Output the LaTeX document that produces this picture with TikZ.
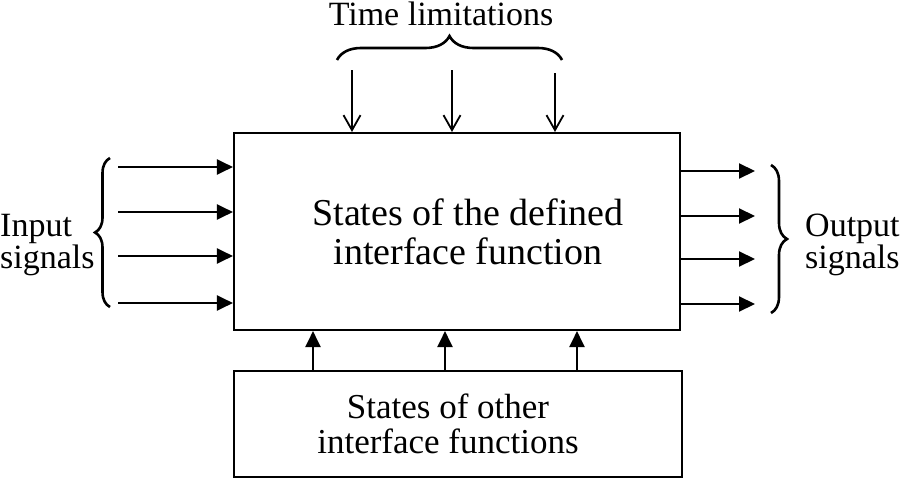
\documentclass[tikz,border=0pt]{standalone}
\usepackage{fontspec}
\setmainfont{Liberation Serif}
\usetikzlibrary{positioning, arrows.meta, decorations.pathreplacing}

\begin{document}
\begin{tikzpicture}[x=1pt, y=-1pt,
  blockbox/.style={draw, line width=2.1pt, inner sep=0pt, align=center},
  sigarrow/.style={line width=2.1pt, -{Triangle[length=16pt,width=15pt]}},
  limarrow/.style={line width=1.8pt, -{Straight Barb[length=15pt,width=17pt]}},
  curly/.style={line width=2.6pt, decorate, decoration={brace, amplitude=#1}},
  lbl/.style={font=\fontsize{34}{28}\selectfont, align=left, inner sep=0pt}]
  \useasboundingbox (0,0) rectangle (900,479);

  % blocks
  \node[blockbox, minimum width=446pt, minimum height=197pt,
        font=\fontsize{38}{39}\selectfont]
    (main) at (457,231.5) {\hspace*{22pt}States of the defined\\\hspace*{22pt}interface function};
  \node[blockbox, minimum width=448pt, minimum height=106pt,
        font=\fontsize{35}{35}\selectfont]
    (other) at (458,424) {States of other\hspace*{20pt}\\interface functions\hspace*{20pt}};

  % input / output signals
  \foreach \y [count=\i] in {167,212,256,303} {
    \coordinate (in\i) at (118,\y);
    \draw[sigarrow] (in\i) -- (in\i -| main.west);
  }
  \foreach \y [count=\i] in {171,216,259,304} {
    \coordinate (out\i) at (755,\y);
    \draw[sigarrow] (out\i -| main.east) -- (out\i);
  }

  % time limitations
  \foreach \x/\y [count=\i] in {352/70,452/70,555/73} {
    \coordinate (lim\i) at (\x,\y);
    \draw[limarrow] (lim\i) -- (lim\i |- main.north);
  }

  % states of other functions
  \foreach \x [count=\i] in {313,445,577} {
    \coordinate (st\i) at (\x,371);
    \draw[sigarrow] (st\i) -- (st\i |- main.south);
  }

  % braces
  \draw[curly=15pt] (110,307) -- (110,158);
  \draw[curly=16pt] (771,165) -- (771,313);
  \draw[curly=24pt] (337,60) -- (562,60);

  % labels
  \node[lbl, anchor=west] (insig) at (0,245) {Input\\signals};
  \node[lbl, anchor=west] (outsig) at (805,245) {Output\\signals};
  \node[lbl, anchor=base] (timelim) at (441,25) {Time limitations};
\end{tikzpicture}
\end{document}
